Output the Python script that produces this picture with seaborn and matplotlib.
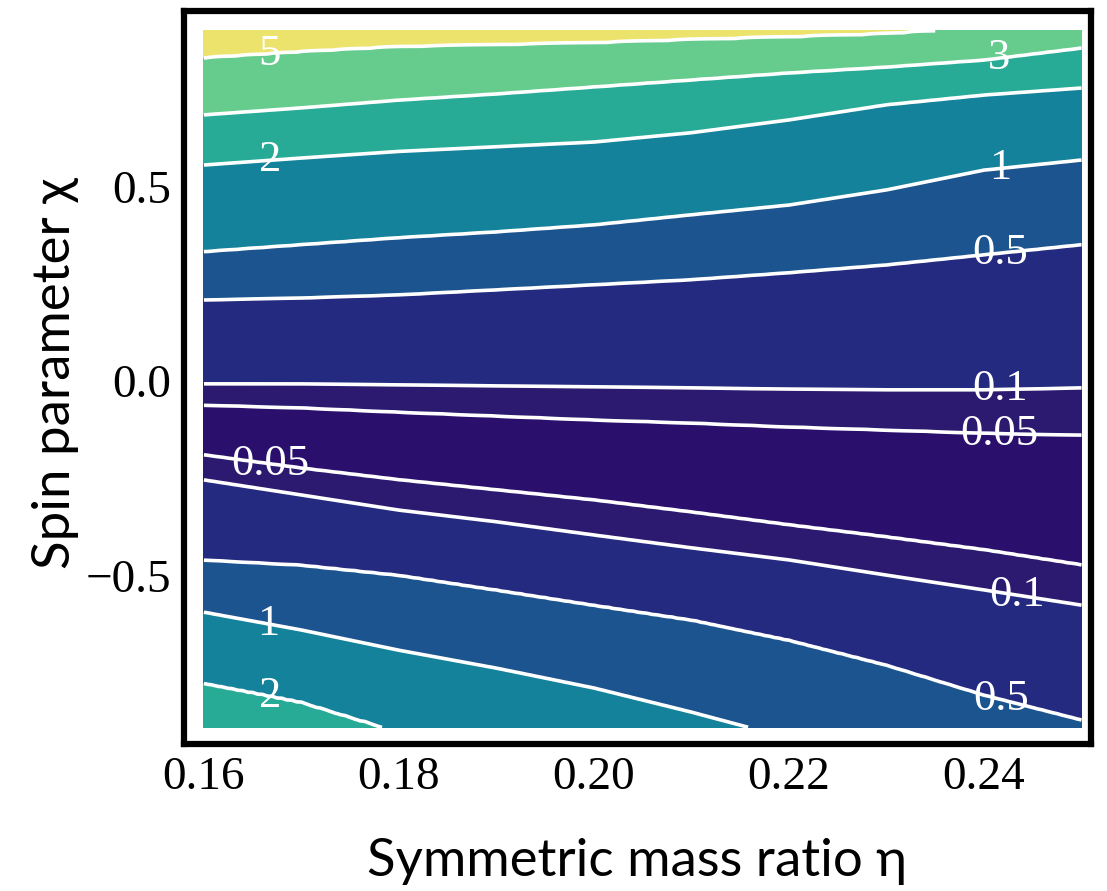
import numpy as np
import matplotlib
matplotlib.use("Agg")
import matplotlib.pyplot as plt
import seaborn as sns

# Columns of symmetric mass ratio at which the contour crossings were taken
eta_cols = [0.16, 0.17, 0.18, 0.19, 0.20, 0.21, 0.22, 0.23, 0.24, 0.25]

# Spin value where each contour level crosses a column (upper branch, above the valley)
upper_5 = [0.830, 0.846, 0.859, 0.864, 0.869, 0.877, 0.884, 0.892, 0.908, 0.935]
upper_3 = [0.684, 0.702, 0.722, 0.738, 0.756, 0.774, 0.792, 0.807, 0.825, 0.856]
upper_2 = [0.555, 0.573, 0.590, 0.602, 0.614, 0.638, 0.671, 0.710, 0.735, 0.753]
upper_1 = [0.332, 0.350, 0.368, 0.383, 0.401, 0.427, 0.452, 0.491, 0.542, 0.568]
upper_05 = [0.208, 0.213, 0.221, 0.234, 0.247, 0.260, 0.278, 0.298, 0.324, 0.350]
upper_01 = [-0.008, -0.008, -0.010, -0.013, -0.015, -0.018, -0.021, -0.023, -0.023, -0.018]
upper_005 = [-0.062, -0.069, -0.080, -0.090, -0.100, -0.108, -0.118, -0.126, -0.134, -0.139]

# Lower branch, below the valley
lower_005 = [-0.190, -0.224, -0.254, -0.280, -0.306, -0.337, -0.370, -0.401, -0.434, -0.473]
lower_01 = [-0.254, -0.293, -0.332, -0.362, -0.396, -0.429, -0.460, -0.499, -0.537, -0.576]
lower_05 = [-0.460, -0.473, -0.499, -0.537, -0.576, -0.614, -0.666, -0.730, -0.807, -0.871]
lower_1 = [-0.594, -0.640, -0.692, -0.738, -0.789, -0.851, -0.918, -0.974, -1.026, -1.077]
lower_2 = [-0.776, -0.825, -0.902, -0.974, -1.051, -1.129, -1.200, -1.280, -1.360, -1.440]

valley_value = 0.03
top_value, top_chi = 8.0, 1.3
bottom_value, bottom_chi = 3.0, -1.7

levels = [0.05, 0.1, 0.5, 1, 2, 3, 5]
fill_levels = [0.0] + levels + [100.0]
band_colors = ["#2a0f6d", "#2b1a70", "#232a7f", "#1b548f", "#13829a",
               "#27ab97", "#65cc8e", "#ebe36b"]

eta_range = (0.16, 0.25)
chi_range = (-0.89, 0.90)

label_spots = [(0.1668, 0.82), (0.1668, 0.563), (0.2416, 0.82), (0.2416, 0.555),
               (0.2416, 0.342), (0.2416, -0.023), (0.2416, -0.144), (0.1670, -0.19),
               (0.2432, -0.576), (0.2416, -0.835), (0.1668, -0.60), (0.1668, -0.833)]

# ---- assemble the gridded field from the contour crossings ----
upper = [(0.05, upper_005), (0.1, upper_01), (0.5, upper_05), (1, upper_1),
         (2, upper_2), (3, upper_3), (5, upper_5)]
lower = [(2, lower_2), (1, lower_1), (0.5, lower_05), (0.1, lower_01), (0.05, lower_005)]

eta = np.linspace(*eta_range, 181)
chi = np.linspace(*chi_range, 361)
Z = np.empty((chi.size, eta.size))
for j, e in enumerate(eta):
    lo = [(np.interp(e, eta_cols, c), v) for v, c in lower]
    up = [(np.interp(e, eta_cols, c), v) for v, c in upper]
    mid = 0.5 * (lo[-1][0] + up[0][0])
    knots = [(bottom_chi, bottom_value)] + lo + [(mid, valley_value)] + up + [(top_chi, top_value)]
    kc = np.array([k[0] for k in knots])
    kv = np.log(np.array([k[1] for k in knots]))
    Z[:, j] = np.exp(np.interp(chi, kc, kv))

# ---- drawing ----
sns.set_theme(style="white")
plt.rcParams["font.family"] = ["Liberation Serif", "DejaVu Serif"]
plt.rcParams["axes.unicode_minus"] = True
plt.rcParams["text.color"] = "black"
plt.rcParams["axes.labelcolor"] = "black"

fig = plt.figure(figsize=(11.07, 8.91), dpi=100)
ax = fig.add_axes([0.1662, 0.1650, 0.8193, 0.8227])

ax.contourf(eta, chi, Z, levels=fill_levels, colors=band_colors)
cs = ax.contour(eta, chi, Z, levels=levels, colors="white", linewidths=2.6)
labels = ax.clabel(cs, inline=False, manual=label_spots, fontsize=32,
                   colors="white", fmt=lambda v: f"{v:g}")
for t in labels:
    t.set_rotation(0)
    t.set_fontfamily(["Liberation Serif", "DejaVu Serif"])

ax.set_xlim(0.15795, 0.25097)
ax.set_ylim(-0.933, 0.951)
ax.set_xticks([0.16, 0.18, 0.20, 0.22, 0.24])
ax.set_xticklabels(["0.16", "0.18", "0.20", "0.22", "0.24"])
ax.set_yticks([-0.5, 0.0, 0.5])
ax.set_yticklabels(["\u22120.5", "0.0", "0.5"])
ax.tick_params(length=0, pad=9, labelsize=34, colors="black", labelcolor="black")

for s in ax.spines.values():
    s.set_visible(True)
    s.set_color("black")
    s.set_linewidth(4.5)

sans = ["Lato", "DejaVu Sans"]
ax.set_xlabel("Symmetric mass ratio \u03b7", family=sans, fontsize=38,
              va="center", color="black")
ax.xaxis.set_label_coords(0.5, -0.16)
ax.set_ylabel("Spin parameter \u03c7", family=sans, fontsize=38,
              va="center", color="black")
ax.yaxis.set_label_coords(-0.142, 0.505)

fig.savefig("out.png", dpi=100, facecolor="white")
